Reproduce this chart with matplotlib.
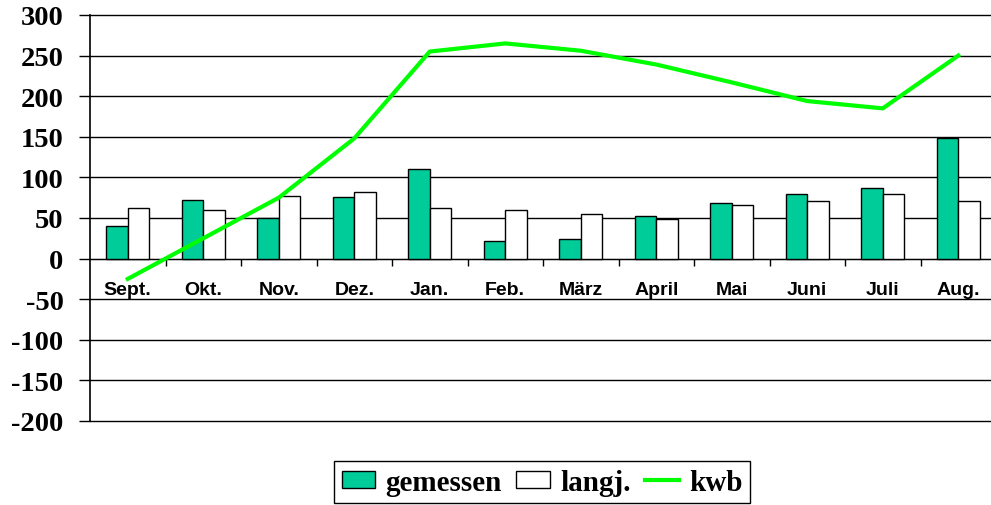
import matplotlib.pyplot as plt
import numpy as np

plt.rcParams["axes.unicode_minus"] = False

months = ["Sept.", "Okt.", "Nov.", "Dez.", "Jan.", "Feb.", "März", "April", "Mai", "Juni", "Juli", "Aug."]
gemessen = [40, 72, 50, 76, 110, 22, 24, 52, 68, 79, 87, 148]
langj = [62, 60, 77, 82, 62, 60, 55, 49, 66, 71, 80, 71]
kwb = [-25, 25, 75, 148, 255, 265, 256, 239, 217, 194, 185, 250]

GREEN = "#00CC99"
LIME = "#00FF00"

fig = plt.figure(figsize=(9.91, 5.06), dpi=100)
ax = fig.add_axes([90 / 991, 84 / 506, 906 / 991, 406 / 506])

x = np.arange(len(months)) + 0.5
w = 0.285
b1 = ax.bar(x - w / 2, gemessen, w, color=GREEN, edgecolor="black", linewidth=1, zorder=3, label="gemessen")
b2 = ax.bar(x + w / 2, langj, w, color="white", edgecolor="black", linewidth=1, zorder=3, label="langj.")
ln, = ax.plot(x, kwb, color=LIME, linewidth=3, zorder=4, label="kwb")

ax.set_xlim(0, len(months))
ax.set_ylim(-200, 300)
ax.set_yticks(np.arange(-200, 301, 50))
ax.yaxis.grid(True, color="black", linewidth=1)
ax.set_axisbelow(True)
for gl in ax.get_ygridlines():
    gl.set_clip_on(False)

for s in ["top", "right"]:
    ax.spines[s].set_visible(False)
ax.spines["bottom"].set_position(("data", 0))
ax.spines["left"].set_linewidth(1.2)

ax.tick_params(axis="y", direction="out", length=8, width=1, pad=11)
for t in ax.get_yticklabels():
    t.set_fontfamily("Liberation Serif")
    t.set_fontweight("bold")
    t.set_fontsize(20.5)

# boundaries as major ticks, month names as minor labels
ax.set_xticks(np.arange(1, len(months)))
ax.set_xticklabels([])
ax.set_xticks(x, minor=True)
ax.set_xticklabels(months, minor=True, fontfamily="Liberation Sans", fontweight="bold", fontsize=14)
ax.tick_params(axis="x", which="major", direction="out", length=5, width=1)
ax.tick_params(axis="x", which="minor", length=0, pad=16)

leg = fig.legend(handles=[b1, b2, ln], loc="center", bbox_to_anchor=(0.547, 0.045), ncol=3,
                 prop={"family": "Liberation Serif", "weight": "bold", "size": 21},
                 fancybox=False, framealpha=1, edgecolor="black", handlelength=1.15,
                 handleheight=0.5, handletextpad=0.35, columnspacing=0.5,
                 borderpad=0.25, borderaxespad=0)
leg.get_frame().set_linewidth(1)

fig.savefig("out.png", dpi=100)
